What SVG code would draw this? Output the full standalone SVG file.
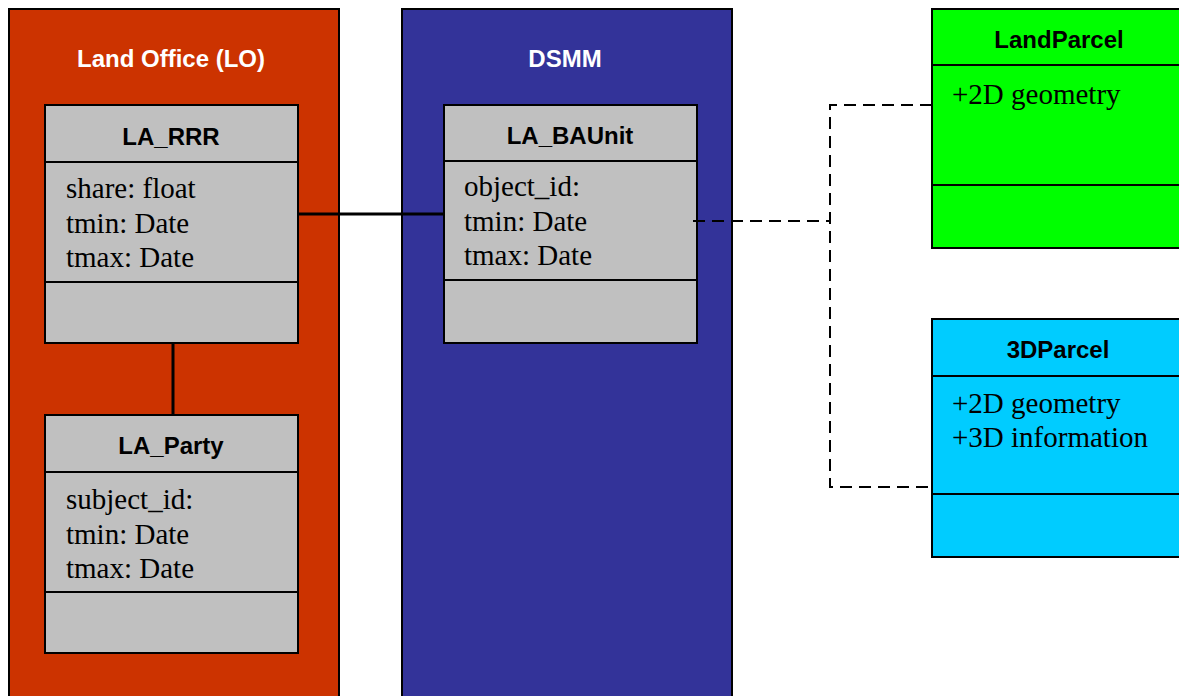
<svg xmlns="http://www.w3.org/2000/svg" width="1179" height="696" viewBox="0 0 1179 696">
<style>
.box{stroke:#000;stroke-width:2}
.cls{fill:#c0c0c0;stroke:#000;stroke-width:2}
.div{stroke:#000;stroke-width:2}
.ttl{font-family:"Liberation Sans",Arial,sans-serif;font-weight:bold;font-size:24px;text-anchor:middle}
.wt{fill:#fff}
.att{font-family:"Liberation Serif","Times New Roman",serif;font-size:29px;fill:#000}
.solid{stroke:#000;stroke-width:3;fill:none}
.dash{stroke:#000;stroke-width:2;fill:none;stroke-dasharray:12,7}
</style>
<rect width="1179" height="696" fill="#fff"/>
<g id="lo">
<rect class="box" x="9" y="9" width="330" height="700" fill="#cc3300"/>
<text class="ttl wt" x="171" y="67">Land Office (LO)</text>
</g>
<g id="dsmm">
<rect class="box" x="402" y="9" width="330" height="700" fill="#333399"/>
<text class="ttl wt" x="565" y="67">DSMM</text>
</g>
<g id="la_rrr">
<rect class="cls" x="45" y="105" width="253" height="238"/>
<line class="div" x1="45" y1="162" x2="298" y2="162"/>
<line class="div" x1="45" y1="282" x2="298" y2="282"/>
<text class="ttl" x="171" y="145">LA_RRR</text>
<text class="att" x="66" y="198">share: float</text>
<text class="att" x="66" y="233">tmin: Date</text>
<text class="att" x="66" y="267">tmax: Date</text>
</g>
<g id="la_party">
<rect class="cls" x="45" y="415" width="253" height="238"/>
<line class="div" x1="45" y1="472" x2="298" y2="472"/>
<line class="div" x1="45" y1="592" x2="298" y2="592"/>
<text class="ttl" x="171" y="454">LA_Party</text>
<text class="att" x="66" y="509">subject_id:</text>
<text class="att" x="66" y="544">tmin: Date</text>
<text class="att" x="66" y="578">tmax: Date</text>
</g>
<g id="la_baunit">
<rect class="cls" x="444" y="105" width="253" height="238"/>
<line class="div" x1="444" y1="161" x2="697" y2="161"/>
<line class="div" x1="444" y1="280" x2="697" y2="280"/>
<text class="ttl" x="570" y="144">LA_BAUnit</text>
<text class="att" x="464" y="196">object_id:</text>
<text class="att" x="464" y="231">tmin: Date</text>
<text class="att" x="464" y="265">tmax: Date</text>
</g>
<g id="landparcel">
<rect class="box" x="932" y="9" width="260" height="239" fill="#00ff00"/>
<line class="div" x1="932" y1="65" x2="1179" y2="65"/>
<line class="div" x1="932" y1="185" x2="1179" y2="185"/>
<text class="ttl" x="1059" y="48">LandParcel</text>
<text class="att" x="952" y="104">+2D geometry</text>
</g>
<g id="parcel3d">
<rect class="box" x="932" y="319" width="260" height="238" fill="#00ccff"/>
<line class="div" x1="932" y1="376" x2="1179" y2="376"/>
<line class="div" x1="932" y1="494" x2="1179" y2="494"/>
<text class="ttl" x="1058" y="358">3DParcel</text>
<text class="att" x="952" y="413">+2D geometry</text>
<text class="att" x="952" y="447">+3D information</text>
</g>
<g id="connectors">
<line class="solid" x1="298" y1="214" x2="444" y2="214"/>
<line class="solid" x1="173" y1="343" x2="173" y2="415"/>
<path class="dash" d="M693 221 H830"/>
<path class="dash" d="M932 105 H830 V487 H932"/>
</g>
</svg>
